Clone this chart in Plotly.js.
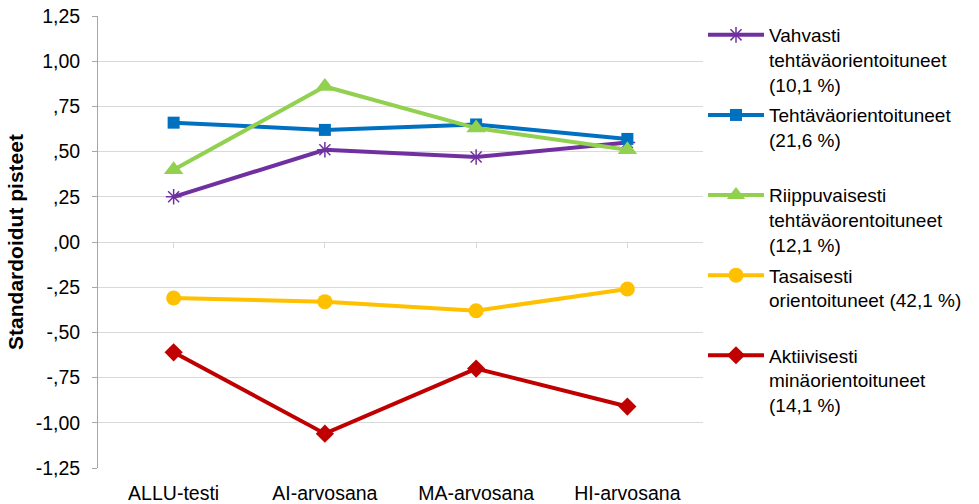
<!DOCTYPE html>
<html>
<head>
<meta charset="utf-8">
<script src="https://cdn.plot.ly/plotly-3.0.1.min.js"></script>
<style>html,body{margin:0;padding:0;background:#fff;}#chart{width:979px;height:504px;}</style>
</head>
<body>
<div id="chart"></div>
<script>
const categories = ['ALLU-testi', 'AI-arvosana', 'MA-arvosana', 'HI-arvosana'];
const vahvasti = [0.25, 0.51, 0.47, 0.55];
const tehtava = [0.66, 0.62, 0.65, 0.57];
const riippuvaisesti = [0.40, 0.86, 0.63, 0.51];
const tasaisesti = [-0.31, -0.33, -0.38, -0.26];
const aktiivisesti = [-0.61, -1.06, -0.70, -0.91];
const seriesNames = [
  'Vahvasti<br>tehtäväorientoituneet<br>(10,1 %)',
  'Tehtäväorientoituneet<br>(21,6 %)<br>&nbsp;',
  'Riippuvaisesti<br>tehtäväorentoituneet<br>(12,1 %)',
  'Tasaisesti<br>orientoituneet (42,1 %)<br>&nbsp;',
  'Aktiivisesti<br>minäorientoituneet<br>(14,1 %)'
];
const yTickVals = [-1.25, -1.0, -0.75, -0.5, -0.25, 0, 0.25, 0.5, 0.75, 1.0, 1.25];
const yTickText = ['-1,25', '-1,00', '-,75', '-,50', '-,25', ',00', ',25', ',50', ',75', '1,00', '1,25'];

const FONT = 'Liberation Sans, Arial, sans-serif';
function mk(y, name, color, symbol, size, idx, extra) {
  const m = {symbol: symbol, size: size, color: color};
  if (extra) Object.assign(m, extra);
  return {x: categories, y: y, name: name, type: 'scatter', mode: 'lines+markers',
    legendgroup: 'g' + idx,
    line: {color: color, width: 4}, marker: m, xaxis: 'x', yaxis: 'y'};
}
const traces = [
  mk(vahvasti, seriesNames[0], '#7030A0', 'asterisk-open', 13, 0, {line: {color: '#7030A0', width: 1.5}}),
  mk(tehtava, seriesNames[1], '#0070C0', 'square', 12, 1),
  mk(riippuvaisesti, seriesNames[2], '#92D050', 'triangle-up', 17, 2),
  mk(tasaisesti, seriesNames[3], '#FFC000', 'circle', 15, 3),
  mk(aktiivisesti, seriesNames[4], '#C00000', 'diamond', 14, 4)
];
traces.push({x: categories, y: [0,0,0,0], xaxis: 'x2', yaxis: 'y', mode: 'markers',
  marker: {opacity: 0}, showlegend: false, hoverinfo: 'skip'});

const layout = {
  width: 979, height: 504,
  margin: {l: 98, r: 272, t: 16, b: 36},
  paper_bgcolor: '#fff', plot_bgcolor: '#fff',
  font: {family: FONT, size: 19, color: '#000'},
  showlegend: true,
  legend: {x: 1.0, xanchor: 'left', y: 1.0, yanchor: 'top', valign: 'top',
    itemwidth: 56,
    font: {family: FONT, size: 19, color: '#000'}, tracegroupgap: 3,
    bgcolor: 'rgba(0,0,0,0)'},
  xaxis: {type: 'category', range: [-0.5, 3.5], showgrid: false, zeroline: false,
    showline: false, ticks: '', tickfont: {family: FONT, size: 19.5, color: '#000'},
    ticklabelstandoff: 11, fixedrange: true},
  xaxis2: {type: 'category', range: [-0.5, 3.5], overlaying: 'x', anchor: 'free', position: 0.5,
    side: 'bottom', showgrid: false, zeroline: false, showline: true, linecolor: '#D9D9D9', linewidth: 1,
    ticks: 'outside', ticklen: 5, tickcolor: '#D9D9D9', showticklabels: false},
  yaxis: {range: [-1.25, 1.25], tickvals: yTickVals, ticktext: yTickText,
    showgrid: true, gridcolor: '#D9D9D9', gridwidth: 1, zeroline: false,
    showline: true, linecolor: '#A6A6A6', linewidth: 1, ticks: 'outside', ticklen: 5, tickcolor: '#A6A6A6',
    tickfont: {family: FONT, size: 19.5, color: '#000'}, ticklabelstandoff: 8,
    title: {text: 'Standardoidut pisteet', font: {family: FONT, size: 21, color: '#000', weight: 'bold'}, standoff: 6}}
};
Plotly.newPlot('chart', traces, layout, {displayModeBar: false, staticPlot: true});
</script>
</body>
</html>
